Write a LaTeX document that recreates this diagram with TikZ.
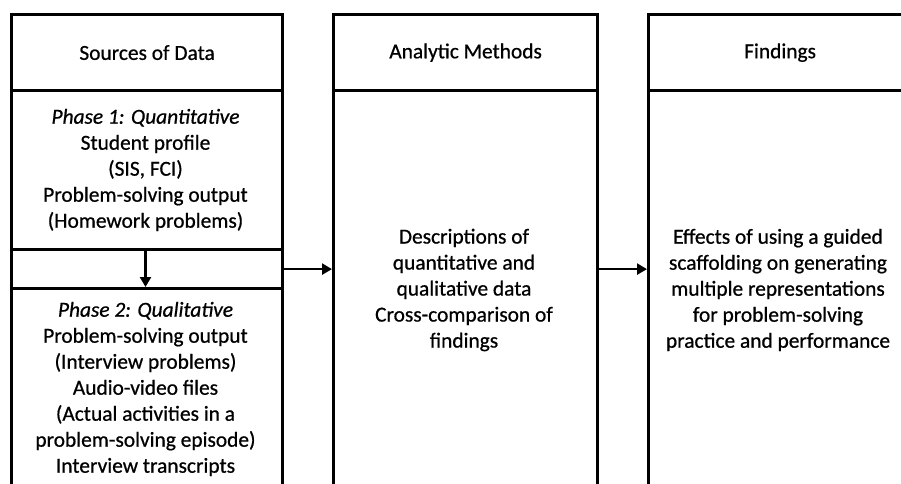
\documentclass[tikz,border=0pt]{standalone}
\usepackage{fontspec}
\setmainfont{Carlito}[FakeBold=0.7,ItalicFeatures={FakeBold=0.7}]
\usetikzlibrary{arrows.meta}
\begin{document}
\begin{tikzpicture}[x=1pt,y=-1pt,
  cell/.style={draw,line width=3.2pt,inner sep=0pt,anchor=north west,align=center},
  txt/.style={align=center,inner sep=0pt},
  arr/.style={line width=2.4pt,-{Triangle[length=10pt,width=11pt]}},
  every node/.append style={font=\fontsize{21.4pt}{26pt}\selectfont}]
\useasboundingbox (0,0) rectangle (901,483);
\clip (0,0) rectangle (901,483);
% left column
\node[cell,minimum width=271pt,minimum height=76pt] (srch) at (10,13) {Sources of Data};
\node[cell,minimum width=271pt,minimum height=159pt] (p1) at (10,89) {};
\node[txt] (p1t) at (145.5,170) {\textit{Phase 1: Quantitative}\\Student profile\\(SIS, FCI)\\Problem-solving output\\(Homework problems)};
\node[cell,minimum width=271pt,minimum height=39pt] (gap) at (10,248) {};
\node[cell,minimum width=271pt,minimum height=240pt] (p2) at (10,287) {};
\node[txt] (p2t) at (145.5,389) {\textit{Phase 2: Qualitative}\\Problem-solving output\\(Interview problems)\\Audio-video files\\(Actual activities in a\\problem-solving episode)\\Interview transcripts};
% middle column
\node[cell,minimum width=264pt,minimum height=76pt] (midh) at (332,13) {Analytic Methods};
\node[cell,minimum width=264pt,minimum height=430pt] (midb) at (332,89) {};
\node[txt] (midt) at (464,290) {Descriptions of\\quantitative and\\qualitative data\\Cross-comparison of\\findings};
% right column
\node[cell,minimum width=263pt,minimum height=76pt] (finh) at (647,13) {Findings};
\node[cell,minimum width=263pt,minimum height=430pt] (finb) at (647,89) {};
\node[txt] (fint) at (778,290) {Effects of using a guided\\scaffolding on generating\\multiple representations\\for problem-solving\\practice and performance};
% arrows
\draw[arr] (p1.south -| p1t.south) -- (p2.north -| p1t.south);
\draw[arr] (gap.east) -- (gap.east -| midb.west);
\draw[arr] (gap.east -| midb.east) -- (gap.east -| finb.west);
\end{tikzpicture}
\end{document}
